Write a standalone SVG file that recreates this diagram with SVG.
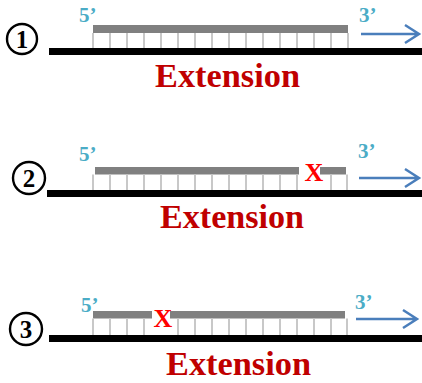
<svg xmlns="http://www.w3.org/2000/svg" width="422" height="383" viewBox="0 0 422 383">
<style>
.bar{fill:#000}
.primer{fill:#808080}
.tick{stroke:#c8c8c8;stroke-width:2}
.lbl{font-family:"Liberation Serif",serif;font-weight:bold;font-size:21px;fill:#4bacc6}
.ext{font-family:"Liberation Serif",serif;font-weight:bold;font-size:33px;fill:#c00000}
.x{font-family:"Liberation Serif",serif;font-weight:bold;font-size:26px;fill:#ff0000;text-anchor:middle}
.arrow{stroke:#4a7ebb;stroke-width:2.5;fill:none}
.circ{fill:none;stroke:#000;stroke-width:2.4}
.num{font-family:"Liberation Serif",serif;font-weight:bold;font-size:25px;fill:#000;text-anchor:middle}
</style>
<defs>
<g id="ticks1">
<path class="tick" d="M93 0V15M110 0V15M127 0V15M144 0V15M161 0V15M178 0V15M195 0V15M212 0V15M229 0V15M246 0V15M263 0V15M280 0V15M297 0V15M314 0V15M331 0V15M348 0V15"/>
</g>
</defs>
<g id="panel1">
<circle class="circ" cx="22" cy="39" r="15"/>
<text class="num" x="22" y="48">1</text>
<rect class="bar" x="49" y="48" width="373" height="7"/>
<rect class="primer" x="93" y="25" width="255" height="8"/>
<use href="#ticks1" y="33"/>
<text class="lbl" x="79" y="22">5’</text>
<text class="lbl" x="359" y="22">3’</text>
<text class="ext" x="155" y="87" textLength="145" lengthAdjust="spacingAndGlyphs">Extension</text>
</g>
<g id="panel2">
<circle class="circ" cx="29" cy="178" r="16"/>
<text class="num" x="29" y="187">2</text>
<rect class="bar" x="47" y="190" width="375" height="7"/>
<rect class="primer" x="95" y="167" width="204" height="7.5"/>
<rect class="primer" x="320" y="167" width="26" height="7.5"/>
<path class="tick" d="M93 174.5V190M110 174.5V190M127 174.5V190M144 174.5V190M161 174.5V190M178 174.5V190M195 174.5V190M212 174.5V190M229 174.5V190M246 174.5V190M263 174.5V190M280 174.5V190M297 174.5V190M331 174.5V190M347 174.5V190"/>
<text class="x" x="314" y="181">X</text>
<text class="lbl" x="79" y="161">5’</text>
<text class="lbl" x="358" y="158">3’</text>
<text class="ext" x="160" y="228" textLength="144" lengthAdjust="spacingAndGlyphs">Extension</text>
</g>
<g id="panel3">
<circle class="circ" cx="26" cy="329" r="16"/>
<text class="num" x="26" y="338">3</text>
<rect class="bar" x="49" y="335" width="373" height="7"/>
<rect class="primer" x="93" y="311" width="59" height="7.5"/>
<rect class="primer" x="170" y="311" width="175" height="7.5"/>
<path class="tick" d="M93 318.5V335M110 318.5V335M127 318.5V335M144 318.5V335M178 318.5V335M195 318.5V335M212 318.5V335M229 318.5V335M246 318.5V335M263 318.5V335M280 318.5V335M297 318.5V335M314 318.5V335M331 318.5V335M347 318.5V335"/>
<text class="x" x="163" y="327">X</text>
<text class="lbl" x="81" y="312">5’</text>
<text class="lbl" x="355" y="309">3’</text>
<text class="ext" x="166" y="375" textLength="145" lengthAdjust="spacingAndGlyphs">Extension</text>
</g>
<g id="connectors">
<path class="arrow" d="M361 34H419M405 25L419 34L405 43"/>
<path class="arrow" d="M359 178H419M405 169L419 178L405 187"/>
<path class="arrow" d="M356 319H417M403 310L417 319L403 328"/>
</g>
</svg>
